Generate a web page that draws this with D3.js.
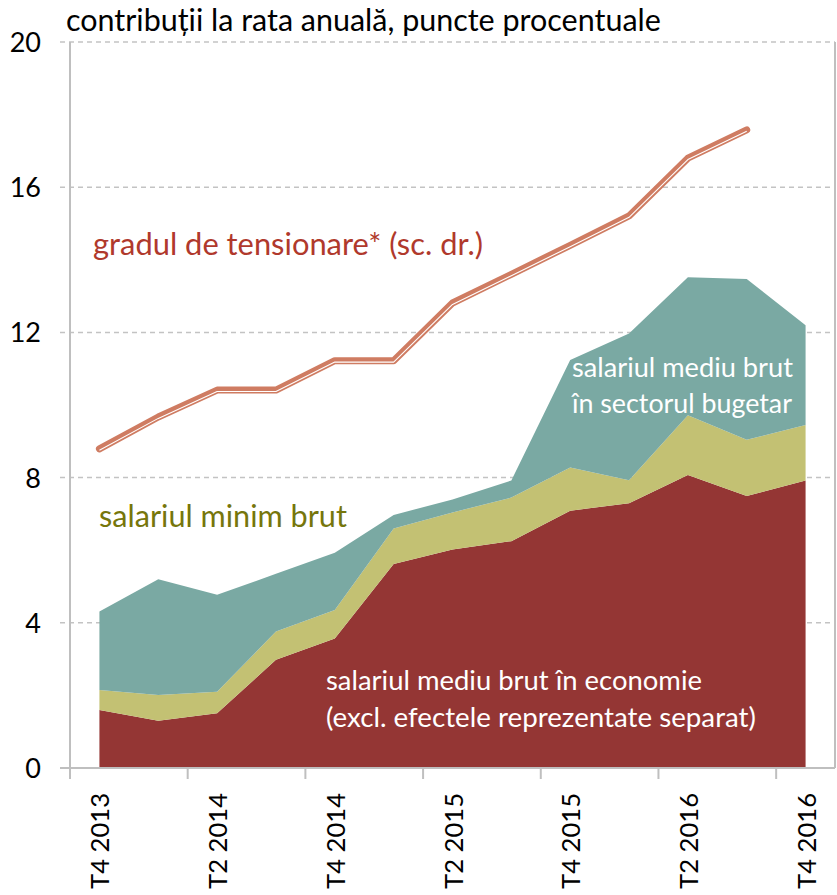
<!DOCTYPE html>
<html>
<head>
<meta charset="utf-8">
<script src="https://cdn.jsdelivr.net/npm/d3@7"></script>
<style>
  html, body { margin: 0; padding: 0; background: #fff; }
  svg { display: block; font-family: Lato, "Open Sans", sans-serif; }
</style>
</head>
<body>
<div id="chart"></div>
<script>
// ─── Data ──────────────────────────────────────────────────────────────
const quarters = ['T4 2013', 'T1 2014', 'T2 2014', 'T3 2014', 'T4 2014', 'T1 2015', 'T2 2015',
  'T3 2015', 'T4 2015', 'T1 2016', 'T2 2016', 'T3 2016', 'T4 2016'];

// contributions, percentage points (stacked bottom -> top)
const salEconomie = [1.60, 1.30, 1.51, 2.98, 3.57, 5.62, 6.02, 6.25, 7.09, 7.29, 8.07, 7.49, 7.92];
const salMinim    = [0.55, 0.71, 0.59, 0.78, 0.78, 0.98, 1.02, 1.20, 1.19, 0.64, 1.65, 1.55, 1.53];
const salBugetar  = [2.16, 3.19, 2.67, 1.59, 1.58, 0.37, 0.36, 0.47, 2.96, 4.04, 3.80, 4.43, 2.75];

// labour market tightness (right scale)
const tensionare  = [8.79, 9.67, 10.41, 10.41, 11.22, 11.22, 12.81, 13.60, 14.40, 15.21, 16.80, 17.58, null];

const yTicks = [0, 4, 8, 12, 16, 20];

const seriesKeys = ['economie', 'minim', 'bugetar'];
const seriesColors = { economie: '#943634', minim: '#c3c173', bugetar: '#7aa9a3' };

// ─── Layout ────────────────────────────────────────────────────────────
const W = 837, H = 895;
const margin = { left: 70, right: 835, top: 42, bottom: 768 };

const svg = d3.select('#chart').append('svg')
  .attr('width', W).attr('height', H);

const x = d3.scalePoint().domain(quarters).range([margin.left, margin.right]).padding(0.5);
const step = x.step();
const y = d3.scaleLinear().domain([0, 20]).range([margin.bottom, margin.top]);
const yRight = d3.scaleLinear().domain([0, 20]).range([margin.bottom, margin.top]);

// helper: shrink/grow a text to a given width (Calibri is not available)
function fitWidth(sel, width) {
  const w = sel.node().getComputedTextLength();
  const fs = parseFloat(sel.attr('font-size'));
  sel.attr('font-size', (fs * width / w).toFixed(2));
  return sel;
}

// Gridlines (dashed) + y tick marks
svg.append('g').selectAll('line')
  .data(yTicks.filter(d => d > 0))
  .join('line')
  .attr('x1', margin.left - 10).attr('x2', margin.right)
  .attr('y1', d => y(d)).attr('y2', d => y(d))
  .attr('stroke', '#c3c3c3').attr('stroke-width', 1.5)
  .attr('stroke-dasharray', '5,4');

// ─── Stacked areas ────────────────────────────────────────────────────
const table = quarters.map((q, i) => ({
  q, economie: salEconomie[i], minim: salMinim[i], bugetar: salBugetar[i]
}));
const stacked = d3.stack().keys(seriesKeys)(table);

const area = d3.area()
  .x(d => x(d.data.q))
  .y0(d => y(d[0]))
  .y1(d => y(d[1]));

svg.append('g').selectAll('path')
  .data(stacked)
  .join('path')
  .attr('fill', s => seriesColors[s.key])
  .attr('d', area);

// ─── Axes ──────────────────────────────────────────────────────────────
const axisCol = '#bfbfbf';
// left axis line
svg.append('line')
  .attr('x1', margin.left).attr('x2', margin.left)
  .attr('y1', margin.top).attr('y2', margin.bottom + 11)
  .attr('stroke', axisCol).attr('stroke-width', 2);
// right axis line (secondary scale, no labels)
svg.append('line')
  .attr('x1', margin.right).attr('x2', margin.right)
  .attr('y1', margin.top).attr('y2', margin.bottom)
  .attr('stroke', axisCol).attr('stroke-width', 2);
// zero line
svg.append('line')
  .attr('x1', margin.left - 10).attr('x2', margin.right)
  .attr('y1', y(0)).attr('y2', y(0))
  .attr('stroke', axisCol).attr('stroke-width', 2);

// x tick marks at every other category boundary
svg.append('g').selectAll('line')
  .data(quarters.filter((q, i) => i % 2 === 0))
  .join('line')
  .attr('x1', q => x(q) - step / 2).attr('x2', q => x(q) - step / 2)
  .attr('y1', margin.bottom).attr('y2', margin.bottom + 11)
  .attr('stroke', axisCol).attr('stroke-width', 2);

// y tick labels
svg.append('g').selectAll('text')
  .data(yTicks)
  .join('text')
  .attr('x', 41).attr('y', d => y(d) + 10)
  .attr('text-anchor', 'end')
  .attr('font-size', 27)
  .attr('fill', '#000')
  .text(d => d);

// x tick labels (rotated)
svg.append('g').selectAll('text')
  .data(quarters.filter((q, i) => i % 2 === 0))
  .join('text')
  .attr('transform', q => `translate(${x(q) + 10},793) rotate(-90)`)
  .attr('text-anchor', 'end')
  .attr('font-size', 29)
  .attr('fill', '#000')
  .text(q => q)
  .each(function () { fitWidth(d3.select(this), 96); });

// ─── Tightness line (double line look) ─────────────────────────────────
const line = d3.line()
  .defined(d => d != null)
  .x((d, i) => x(quarters[i]))
  .y(d => yRight(d));

svg.append('path')
  .attr('d', line(tensionare))
  .attr('fill', 'none')
  .attr('stroke', '#cf7c62').attr('stroke-width', 7)
  .attr('stroke-linecap', 'round').attr('stroke-linejoin', 'round');

svg.append('path')
  .attr('d', line(tensionare))
  .attr('transform', 'translate(0,1.4)')
  .attr('fill', 'none')
  .attr('stroke', '#fff').attr('stroke-width', 1.1)
  .attr('stroke-linejoin', 'round');

// ─── Texts ─────────────────────────────────────────────────────────────
const title = svg.append('text')
  .attr('x', 66).attr('y', 31)
  .attr('font-size', 26).attr('fill', '#000')
  .text('contribuții la rata anuală, puncte procentuale');
fitWidth(title, 595);

const labels = [
  { t: 'gradul de tensionare* (sc. dr.)', x: 93, y: 255, w: 390, c: '#b0392c' },
  { t: 'salariul minim brut', x: 99, y: 527, w: 248, c: '#76760c' },
  { t: 'salariul mediu brut', x: 572, y: 377, w: 221, c: '#fff' },
  { t: 'în sectorul bugetar', x: 572, y: 413, w: 220, c: '#fff' },
  { t: 'salariul mediu brut în economie', x: 326, y: 690, w: 376, c: '#fff' },
  { t: '(excl. efectele reprezentate separat)', x: 326, y: 727, w: 430, c: '#fff' }
];

labels.forEach(l => {
  const s = svg.append('text')
    .attr('x', l.x).attr('y', l.y)
    .attr('font-size', 24).attr('fill', l.c)
    .text(l.t);
  fitWidth(s, l.w);
});
</script>
</body>
</html>
